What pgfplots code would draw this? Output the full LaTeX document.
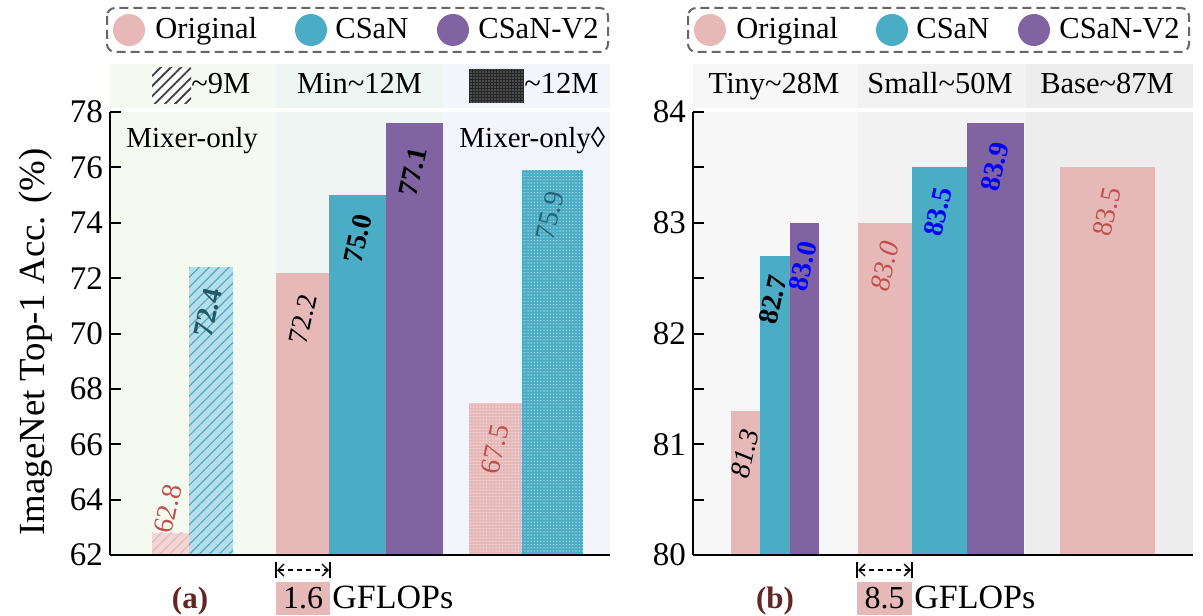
\documentclass[border=0pt]{standalone}
\usepackage{fontspec}
\setmainfont{Liberation Serif}
\usepackage{pgfplots}
\pgfplotsset{compat=1.18}
\usetikzlibrary{patterns.meta,arrows.meta}
\definecolor{cOrig}{HTML}{E6B8B7}
\definecolor{cOrigL}{HTML}{F2D6D5}
\definecolor{cCsan}{HTML}{4BACC6}
\definecolor{cCsanL}{HTML}{B7DEE8}
\definecolor{cV}{HTML}{8064A2}
\definecolor{cRed}{HTML}{C0504D}
\definecolor{cTeal}{HTML}{215968}
\definecolor{cBrown}{HTML}{632523}
\definecolor{bgLa}{HTML}{F5FAF0}
\definecolor{bgLb}{HTML}{EEF6F4}
\definecolor{bgLc}{HTML}{F2F5FC}
\definecolor{bgRa}{HTML}{F7F7F7}
\definecolor{bgRb}{HTML}{F2F2F2}
\definecolor{bgRc}{HTML}{EDEDED}
\newcommand{\fs}[1]{\fontsize{#1}{#1}\selectfont}
\tikzset{vlab/.style={rotate=78, anchor=center, inner sep=0pt, font=\fs{14}}}
\pgfplotsset{
  panel/.style={
    scale only axis, width=250pt, height=221.5pt,
    xmin=0, xmax=500, enlargelimits=false,
    axis lines*=left,
    axis line style={line width=1pt,-},
    xtick=\empty,
    tick align=inside, tick pos=left,
    major tick length=5.5pt, minor tick length=5.5pt,
    every tick/.style={line width=1pt, black},
    ybar, bar shift=0pt,
    yticklabel style={font=\fs{16.5}},
    /pgf/number format/assume math mode=true,
    axis on top,
    clip mode=individual,
  },
}
\begin{document}
\begin{tikzpicture}
\path[use as bounding box] (0pt,0pt) rectangle (601.5pt,-307.5pt);
% backgrounds
\fill[bgLa] (55pt,-56pt) rectangle (138pt,-277.5pt);
\fill[bgLb] (138pt,-56pt) rectangle (221.5pt,-277.5pt);
\fill[bgLc] (221.5pt,-56pt) rectangle (305pt,-277.5pt);
\fill[bgRa] (346.5pt,-56pt) rectangle (429pt,-277.5pt);
\fill[bgRb] (429pt,-56pt) rectangle (513pt,-277.5pt);
\fill[bgRc] (513pt,-56pt) rectangle (596.5pt,-277.5pt);
% header bands
\fill[bgLa] (55pt,-32pt) rectangle (138pt,-54pt);
\fill[bgLb] (138pt,-32pt) rectangle (221.5pt,-54pt);
\fill[bgLc] (221.5pt,-32pt) rectangle (305pt,-54pt);
\fill[bgRa] (346.5pt,-32pt) rectangle (429pt,-54pt);
\fill[bgRb] (429pt,-32pt) rectangle (513pt,-54pt);
\fill[bgRc] (513pt,-32pt) rectangle (596.5pt,-54pt);

% ---------------- panel (a)
\begin{axis}[panel, at={(55pt,-277.5pt)}, anchor=south west,
  ymin=62, ymax=78, ytick={62,64,...,78}]
\addplot[draw=none, fill=cOrigL, bar width=37, bar shift=0pt,
  postaction={pattern={Lines[angle=45,distance=3.5pt,line width=0.6pt]}, pattern color=cOrig}]
  coordinates {(60.5,62.8)};
\addplot[draw=none, fill=cCsanL, bar width=44, bar shift=0pt,
  postaction={pattern={Lines[angle=45,distance=3.5pt,line width=0.6pt]}, pattern color=cCsan}]
  coordinates {(101,72.4)};
\addplot[draw=none, fill=cOrig, bar width=53, bar shift=0pt] coordinates {(192.5,72.2)};
\addplot[draw=none, fill=cCsan, bar width=57, bar shift=0pt] coordinates {(247.5,75.0)};
\addplot[draw=none, fill=cV, bar width=57, bar shift=0pt] coordinates {(304.5,77.6)};
\addplot[draw=none, fill=cOrig, bar width=53, bar shift=0pt,
  postaction={pattern={Dots[distance=1.6pt,radius=0.4pt]}, pattern color=white!55!cOrig}]
  coordinates {(385.5,67.5)};
\addplot[draw=none, fill=cCsan, bar width=61, bar shift=0pt,
  postaction={pattern={Dots[distance=1.6pt,radius=0.4pt]}, pattern color=white!45!cCsan}]
  coordinates {(442.5,75.9)};
\node[vlab, text=cRed] at ([yshift=12pt]axis cs:58,62.8) {62.8};
\node[vlab, text=cTeal, font=\fs{14}\bfseries] at ([yshift=-22.8pt]axis cs:98,72.4) {72.4};
\node[vlab] at ([yshift=-23.3pt]axis cs:193,72.2) {72.2};
\node[vlab, font=\fs{14}\bfseries] at ([yshift=-21.8pt]axis cs:248,75.0) {75.0};
\node[vlab, font=\fs{14}\bfseries] at ([yshift=-24.3pt]axis cs:303,77.6) {77.1};
\node[vlab, text=cRed] at ([yshift=-23.3pt]axis cs:385,67.5) {67.5};
\node[vlab, text=cTeal!85!cCsan] at ([yshift=-22.8pt]axis cs:440,75.9) {75.9};
\end{axis}

% ---------------- panel (b)
\begin{axis}[panel, at={(346.5pt,-277.5pt)}, anchor=south west,
  ymin=80, ymax=84, ytick={80,81,82,83,84},
  minor ytick={80.5,81.5,82.5,83.5}]
\addplot[draw=none, fill=cOrig, bar width=29, bar shift=0pt] coordinates {(52.5,81.3)};
\addplot[draw=none, fill=cCsan, bar width=30, bar shift=0pt] coordinates {(82,82.7)};
\addplot[draw=none, fill=cV, bar width=29, bar shift=0pt] coordinates {(111.5,83.0)};
\addplot[draw=none, fill=cOrig, bar width=54, bar shift=0pt] coordinates {(192,83.0)};
\addplot[draw=none, fill=cCsan, bar width=55, bar shift=0pt] coordinates {(246.5,83.5)};
\addplot[draw=none, fill=cV, bar width=57, bar shift=0pt] coordinates {(302.5,83.9)};
\addplot[draw=none, fill=cOrig, bar width=95, bar shift=0pt] coordinates {(414.5,83.5)};
\node[vlab, font=\fs{14}\itshape] at ([yshift=-21.3pt]axis cs:52,81.3) {81.3};
\node[vlab, font=\fs{14}\bfseries] at ([yshift=-21.8pt]axis cs:80,82.7) {82.7};
\node[vlab, font=\fs{14}\bfseries, text=blue] at ([yshift=-21.8pt]axis cs:110,83.0) {83.0};
\node[vlab, font=\fs{14}\itshape, text=cRed] at ([yshift=-21.8pt]axis cs:192,83.0) {83.0};
\node[vlab, font=\fs{14}\bfseries, text=blue] at ([yshift=-22.3pt]axis cs:245,83.5) {83.5};
\node[vlab, font=\fs{14}\bfseries, text=blue] at ([yshift=-21.8pt]axis cs:302,83.9) {83.9};
\node[vlab, text=cRed] at ([yshift=-22.3pt]axis cs:414,83.5) {83.5};
\end{axis}

% y label
\node[rotate=90, font=\fs{18.4}] at (18pt,-171pt) {ImageNet Top-1 Acc. (\%)};

% in-panel texts
\node[anchor=base west, inner sep=0pt, font=\fs{14.5}] at (63pt,-74pt) {Mixer-only};
\node[anchor=base west, inner sep=0pt, font=\fs{14.5}] at (229.5pt,-74pt) {Mixer-only\symbol{"25CA}};

% header texts
\fill[white] (76pt,-34pt) rectangle (95.5pt,-52pt);
\begin{scope}
\clip (76pt,-34pt) rectangle (95.5pt,-52pt);
\fill[pattern={Lines[angle=45,distance=3.6pt,line width=0.9pt]}, pattern color=black!75] (76pt,-34pt) rectangle (95.5pt,-52pt);
\end{scope}
\fill[black!85] (234.5pt,-34.5pt) rectangle (262pt,-51.5pt);
\fill[pattern={Dots[distance=1.5pt,radius=0.35pt]}, pattern color=white!80!black] (234.5pt,-34.5pt) rectangle (262pt,-51.5pt);
\node[anchor=base west, inner sep=0pt, font=\fs{15.25}] at (95.5pt,-46.75pt) {\textasciitilde 9M};
\node[anchor=base, inner sep=0pt, font=\fs{15.25}] at (179.75pt,-46.75pt) {Min\textasciitilde 12M};
\node[anchor=base west, inner sep=0pt, font=\fs{15.25}] at (262pt,-46.75pt) {\textasciitilde 12M};
\node[anchor=base, inner sep=0pt, font=\fs{15.25}] at (387pt,-46.75pt) {Tiny\textasciitilde 28M};
\node[anchor=base, inner sep=0pt, font=\fs{15.25}] at (470pt,-46.75pt) {Small\textasciitilde 50M};
\node[anchor=base, inner sep=0pt, font=\fs{15.25}] at (553.5pt,-46.75pt) {Base\textasciitilde 87M};

% legends
\foreach \ox in {0pt,290.5pt}{
  \begin{scope}[xshift=\ox]
  \draw[black!60, line width=1pt, dash pattern=on 4.5pt off 2.5pt, rounded corners=4pt]
    (53.5pt,-4pt) rectangle (304pt,-26pt);
  \fill[cOrig] (64.5pt,-15pt) circle (8pt);
  \fill[cCsan] (155.5pt,-15pt) circle (8pt);
  \fill[cV] (226.5pt,-15pt) circle (8pt);
  \node[anchor=base west, inner sep=0pt, font=\fs{15.25}] at (77.5pt,-19.3pt) {Original};
  \node[anchor=base west, inner sep=0pt, font=\fs{15.25}] at (167.5pt,-19.3pt) {CSaN};
  \node[anchor=base west, inner sep=0pt, font=\fs{15.25}] at (239pt,-19.3pt) {CSaN-V2};
  \end{scope}
}

% bottom annotations
\foreach \xa/\xb/\val/\lab/\lx in {138pt/165pt/1.6/(a)/95pt, 428.5pt/456pt/8.5/(b)/387.5pt}{
  \draw[line width=0.8pt] (\xa,-281pt) -- (\xa,-289pt);
  \draw[line width=0.8pt] (\xb,-281pt) -- (\xb,-289pt);
  \draw[line width=0.7pt, dash pattern=on 2.5pt off 2pt,
    {Straight Barb[length=3pt,width=6pt]}-{Straight Barb[length=3pt,width=6pt]}]
    ([xshift=0.5pt]\xa,-285pt) -- ([xshift=-0.5pt]\xb,-285pt);
  \fill[cOrig] (\xa,-291pt) rectangle (\xb,-307.5pt);
  \path (\xa,-304pt) -- node[anchor=base, inner sep=0pt, font=\fs{16}] {\val} (\xb,-304pt);
  \node[anchor=base west, inner sep=0pt, font=\fs{17}] at ([xshift=1pt]\xb,-304pt) {GFLOPs};
  \node[anchor=base, inner sep=0pt, font=\fs{15.5}\bfseries, text=cBrown] at (\lx,-304pt) {\lab};
}
\end{tikzpicture}
\end{document}
